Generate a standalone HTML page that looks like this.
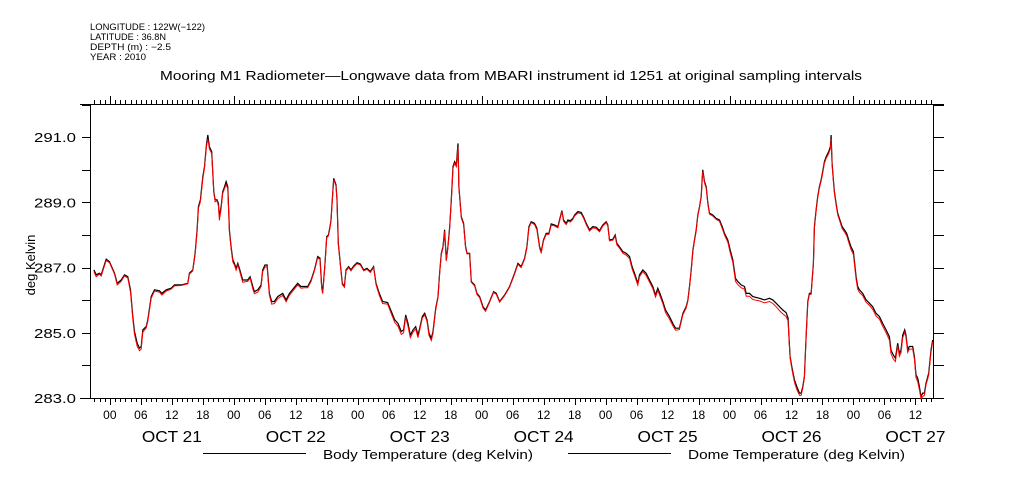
<!DOCTYPE html>
<html><head><meta charset="utf-8">
<style>
html,body{margin:0;padding:0;background:#fff;}
svg{display:block;font-family:"Liberation Sans",sans-serif;}
</style></head>
<body>
<svg id="chart" width="1009" height="504" viewBox="0 0 1009 504" xmlns="http://www.w3.org/2000/svg">
<g font-size="9" fill="#000">
<text x="90" y="30" textLength="115" lengthAdjust="spacingAndGlyphs">LONGITUDE : 122W(−122)</text>
<text x="90" y="40" textLength="76" lengthAdjust="spacingAndGlyphs">LATITUDE : 36.8N</text>
<text x="90" y="50" textLength="81" lengthAdjust="spacingAndGlyphs">DEPTH (m) : −2.5</text>
<text x="90" y="60" textLength="56" lengthAdjust="spacingAndGlyphs">YEAR : 2010</text>
</g>
<text x="160" y="80" textLength="702" lengthAdjust="spacingAndGlyphs" font-size="13">Mooring M1 Radiometer—Longwave data from MBARI instrument id 1251 at original sampling intervals</text>
<text transform="translate(35,265) rotate(-90)" text-anchor="middle" font-size="13">deg Kelvin</text>
<g id="axes"></g>
<g id="series"></g>
<g font-size="13">
<line x1="203" y1="453.5" x2="306" y2="453.5" stroke="#000"/>
<text x="323" y="459" textLength="210" lengthAdjust="spacingAndGlyphs">Body Temperature (deg Kelvin)</text>
<line x1="568" y1="453.5" x2="671" y2="453.5" stroke="#000"/>
<text x="688" y="459" textLength="217" lengthAdjust="spacingAndGlyphs">Dome Temperature (deg Kelvin)</text>
</g>
</svg>
<script>
const hours=[-3.1,-2.65,-2,-1.68,-0.71,-0.07,0.9,1.42,2.19,2.84,3.48,4,4.45,4.77,5.29,5.74,6.06,6.38,7.03,7.35,8,8.64,9.61,10.06,10.9,11.87,12.51,13.8,15.09,15.41,16.06,16.51,16.9,17.15,17.54,17.99,18.32,18.7,18.96,19.28,19.73,20.12,20.38,20.77,21.02,21.22,21.54,21.86,22.19,22.51,22.83,23.15,23.48,23.8,24.12,24.44,24.77,25.09,25.73,26.7,27.15,27.67,27.99,28.64,29.28,29.6,30.05,30.44,30.89,31.34,31.86,32.51,33.47,34.12,34.76,36.38,37.02,37.67,38.31,38.96,39.6,40.25,40.7,41.02,41.21,41.41,41.66,41.99,42.31,42.63,42.83,43.15,43.34,43.79,43.99,44.24,44.63,45.02,45.41,45.73,46.24,46.7,47.21,47.86,48.5,49.15,49.79,50.44,51.08,51.53,52.18,52.82,53.79,54.51,55.15,55.8,56.44,56.89,57.28,57.73,58.18,58.7,59.22,59.67,59.99,60.51,60.96,61.41,61.8,62.25,62.57,63.09,63.54,63.86,64.18,64.51,64.83,65.15,65.47,65.8,66.12,66.44,66.76,67.09,67.41,67.6,68.05,68.5,68.89,69.15,69.67,69.99,70.63,71.08,71.6,72.25,72.76,73.54,74.31,74.83,75.47,76.44,77.41,78.37,79.02,79.66,80.31,80.76,81.15,81.6,82.24,82.69,83.21,83.53,83.98,84.5,85.02,85.47,86.11,86.76,87.08,87.53,87.85,88.37,88.69,89.14,89.66,89.98,90.63,91.27,91.72,92.24,92.89,93.53,94.18,94.82,95.47,96.11,96.43,96.76,97.4,97.85,98.17,98.69,99.34,99.98,100.63,101.14,101.59,102.24,102.56,103.21,103.85,104.5,105.14,105.66,106.11,106.56,107.08,107.59,108.37,109.01,109.53,110.3,110.96,111.61,111.93,112.25,112.57,112.9,113.22,113.54,113.86,114.19,114.51,114.7,114.83,115.15,115.48,115.8,116.12,116.77,117.41,118.06,118.57,119.02,119.67,120.12,120.64,121.15,121.6,122.25,122.89,123.22,123.86,124.51,125.8,126.76,127.73,128.38,129.02,129.67,130.31,130.96,131.34,131.47,131.73,132.12,132.57,133.02,133.54,133.86,134.18,134.5,134.83,135.15,135.47,135.79,136.24,136.44,136.76,137.08,137.41,137.73,138.05,138.37,138.7,139.21,139.53,139.66,139.86,140.11,140.31,140.63,140.95,141.28,141.79,142.24,142.69,143.08,143.53,143.98,144.5,144.82,145.15,145.79,146.44,147.08,147.73,148.37,149.02,149.66,150.31,150.95,151.27,151.72,152.11,152.56,152.89,153.21,153.53,153.92,154.18,154.5,154.82,155.47,155.79,156.11,156.44,156.76,157.08,157.4,157.73,158.05,158.56,158.82,159.01,159.34];
const bodyTemp=[286.93,286.78,286.83,286.78,287.26,287.18,286.83,286.52,286.62,286.78,286.72,286.32,285.5,285.04,284.68,284.53,284.58,285.09,285.19,285.4,286.11,286.32,286.29,286.21,286.32,286.37,286.47,286.47,286.52,286.83,286.93,287.44,288.16,288.87,289.08,289.79,290.1,290.76,291.07,290.71,290.56,289.33,289.08,289.08,288.97,288.56,288.87,289.33,289.48,289.64,289.48,288.16,287.64,287.24,287.13,286.98,287.13,286.98,286.62,286.62,286.72,286.42,286.26,286.32,286.47,286.93,287.08,287.08,286.21,285.96,285.96,286.11,286.21,286.01,286.21,286.52,286.42,286.42,286.42,286.62,286.93,287.34,287.29,286.42,286.26,286.62,287.13,287.95,288,288.26,288.46,289.28,289.74,289.54,289.08,287.75,287.13,286.52,286.42,286.93,287.03,286.93,287.05,287.15,287.11,286.93,286.98,286.88,287.03,286.52,286.21,285.96,285.93,285.65,285.4,285.29,285.04,285.09,285.55,285.29,284.93,285.09,285.19,284.93,285.14,285.5,285.6,285.4,284.99,284.83,285.04,285.75,286.11,286.83,287.44,287.64,288.16,287.24,287.64,288.26,289.08,290.1,290.25,290.15,290.81,289.48,288.56,288.36,287.64,287.44,287.44,286.57,286.47,286.21,286.11,285.8,285.7,285.96,286.26,286.21,285.96,286.16,286.42,286.83,287.13,287.03,287.29,287.64,288.26,288.41,288.36,288.21,287.64,287.49,287.85,288.05,288.05,288.34,288.31,288.26,288.46,288.75,288.46,288.36,288.46,288.44,288.51,288.61,288.72,288.69,288.56,288.36,288.16,288.26,288.24,288.14,288.31,288.41,288.31,287.85,287.87,288,287.75,287.64,287.49,287.44,287.34,287.03,286.83,286.52,286.78,286.93,286.83,286.62,286.42,286.16,286.37,286.19,285.96,285.7,285.5,285.29,285.14,285.14,285.6,285.8,286.01,286.42,286.93,287.54,287.85,288.16,288.61,288.87,289.18,289.74,290,289.64,289.48,288.97,288.67,288.61,288.51,288.46,288.26,288.05,287.85,287.54,287.24,286.67,286.57,286.47,286.42,286.21,286.21,286.11,286.06,286.01,286.06,286.01,285.91,285.8,285.7,285.62,285.45,284.99,284.27,283.91,283.55,283.35,283.15,283.15,283.35,283.66,284.88,285.96,286.21,286.21,287.13,288.26,288.77,289.18,289.48,289.69,289.95,290.25,290.4,290.56,290.71,291.07,290.2,289.69,289.33,288.97,288.67,288.51,288.26,288.16,288.05,287.85,287.64,287.49,286.72,286.42,286.32,286.21,286.01,285.91,285.8,285.6,285.5,285.29,285.09,284.88,284.47,284.32,284.22,284.68,284.37,284.47,284.93,285.09,284.93,284.47,284.58,284.58,284.27,283.71,283.61,283.35,283.04,283.15,283.15,283.45,283.76,284.17,284.47,284.78];
const domeTemp=[286.88,286.72,286.8,286.74,287.22,287.15,286.8,286.47,286.58,286.75,286.68,286.25,285.42,284.95,284.58,284.45,284.5,285.02,285.15,285.35,286.06,286.28,286.25,286.16,286.28,286.34,286.44,286.45,286.5,286.8,286.9,287.4,288.1,288.82,289.02,289.72,290.05,290.7,290.95,290.65,290.5,289.3,289.02,289.05,288.9,288.45,288.8,289.28,289.42,289.55,289.42,288.1,287.58,287.18,287.08,286.92,287.08,286.92,286.55,286.58,286.68,286.35,286.2,286.25,286.42,286.88,287.02,287.02,286.15,285.88,285.9,286.05,286.15,285.95,286.15,286.47,286.37,286.38,286.38,286.58,286.9,287.3,287.25,286.35,286.2,286.58,287.1,287.92,287.97,288.22,288.42,289.25,289.7,289.5,289.05,287.72,287.1,286.48,286.4,286.9,287,286.9,287.02,287.12,287.08,286.9,286.95,286.85,287,286.48,286.15,285.9,285.88,285.58,285.32,285.2,284.95,285,285.48,285.2,284.85,285.02,285.12,284.85,285.08,285.45,285.55,285.35,284.92,284.76,284.98,285.7,286.08,286.8,287.4,287.6,288.12,287.2,287.6,288.22,289.05,290.05,290.2,290.1,290.7,289.45,288.52,288.32,287.6,287.42,287.42,286.55,286.44,286.18,286.08,285.76,285.66,285.94,286.24,286.18,285.94,286.14,286.4,286.8,287.1,287,287.26,287.6,288.22,288.38,288.32,288.16,287.6,287.45,287.82,288.02,288.02,288.3,288.28,288.22,288.42,288.72,288.42,288.32,288.42,288.4,288.48,288.58,288.68,288.65,288.52,288.32,288.12,288.22,288.2,288.1,288.28,288.38,288.28,287.82,287.84,287.96,287.7,287.6,287.44,287.38,287.28,286.96,286.76,286.46,286.72,286.88,286.76,286.56,286.36,286.1,286.3,286.12,285.9,285.62,285.42,285.22,285.08,285.1,285.56,285.76,285.98,286.4,286.9,287.5,287.82,288.12,288.58,288.84,289.15,289.7,289.95,289.6,289.44,288.94,288.64,288.58,288.48,288.42,288.2,288,287.78,287.46,287.16,286.58,286.48,286.38,286.34,286.12,286.12,286.02,285.98,285.92,285.96,285.9,285.8,285.68,285.58,285.5,285.36,284.92,284.22,283.85,283.48,283.26,283.08,283.08,283.3,283.62,284.85,285.92,286.18,286.18,287.1,288.22,288.72,289.14,289.44,289.65,289.9,290.2,290.35,290.5,290.65,290.95,290.15,289.64,289.28,288.92,288.62,288.46,288.2,288.1,287.98,287.78,287.56,287.4,286.64,286.34,286.24,286.14,285.94,285.84,285.72,285.52,285.42,285.2,285,284.78,284.36,284.2,284.12,284.6,284.28,284.38,284.85,285.02,284.86,284.4,284.5,284.5,284.2,283.62,283.5,283.25,282.98,283.05,283.08,283.4,283.7,284.1,284.4,284.72];
const yTickVals=[283,284,285,286,287,288,289,290,291,292];
const yLabelVals=[283,285,287,289,291];
const hourLabels=["00","06","12","18"];
const dayLabels=["OCT 21","OCT 22","OCT 23","OCT 24","OCT 25","OCT 26","OCT 27"];

const NS="http://www.w3.org/2000/svg";
const X0=90.5,X1=933,Y0=398,Y1=104;
const H0=-3.75,H1=159.4,V0=283,V1=292.02;
function xScale(h){return X0+(h-H0)/(H1-H0)*(X1-X0);}
function yScale(v){return Y0-(v-V0)/(V1-V0)*(Y0-Y1);}
function mk(tag,attrs,parent){const e=document.createElementNS(NS,tag);for(const k in attrs)e.setAttribute(k,attrs[k]);parent.appendChild(e);return e;}
const axes=document.getElementById('axes');
const series=document.getElementById('series');
let l;
l=mk('line',{x1:80,y1:Y1+0.5,x2:944,y2:Y1+0.5,stroke:'#000'},axes);


l=mk('line',{x1:80,y1:Y0+0.5,x2:944,y2:Y0+0.5,stroke:'#000'},axes);


l=mk('line',{x1:X0,y1:Y1,x2:X0,y2:Y0,stroke:'#000'},axes);


l=mk('line',{x1:X1+0.5,y1:Y1,x2:X1+0.5,y2:Y0,stroke:'#000'},axes);


for(let h=Math.ceil(H0);h<=H1;h++){
  const x=Math.round(xScale(h))+0.5;
  const hr=((h%24)+24)%24;
  const topLen=hr===0?8:4;
  const botLen=hr%6===0?7:4;
  let t=mk('line',{x1:x,y1:Y1,x2:x,y2:Y1-topLen,stroke:'#000'},axes);
  
  
  t=mk('line',{x1:x,y1:Y0,x2:x,y2:Y0+botLen,stroke:'#000'},axes);
  
  
  if(hr%6===0){
    const lab=mk('text',{x:xScale(h),y:419,'text-anchor':'middle','font-size':'12'},axes);
    lab.textContent=hourLabels[hr/6];
    
    
  }
}
dayLabels.forEach((d,i)=>{
  const lab=mk('text',{x:xScale(i*24+12),y:442,'text-anchor':'middle','font-size':'16',textLength:'60',lengthAdjust:'spacingAndGlyphs'},axes);
  lab.textContent=d;
  
  
});
yTickVals.forEach(v=>{
  const y=Math.round(yScale(v))+0.5;
  let t=mk('line',{x1:82,y1:y,x2:X0,y2:y,stroke:'#000'},axes);
  
  
  t=mk('line',{x1:X1,y1:y,x2:944,y2:y,stroke:'#000'},axes);
  
  
});
yLabelVals.forEach(v=>{
  const lab=mk('text',{x:76,y:yScale(v)+5,'text-anchor':'end','font-size':'13',textLength:'42',lengthAdjust:'spacingAndGlyphs'},axes);
  lab.textContent=v.toFixed(1);
  
  
});
function pathFor(vals){return vals.map((v,i)=>(i?'L':'M')+xScale(hours[i]).toFixed(1)+','+yScale(v).toFixed(1)).join('');}
const bl=mk('path',{d:pathFor(bodyTemp),fill:'none',stroke:'#000','stroke-width':'1.2'},series);


const dl=mk('path',{d:pathFor(domeTemp),fill:'none',stroke:'#ff0000','stroke-width':'1'},series);


</script>
</body></html>
